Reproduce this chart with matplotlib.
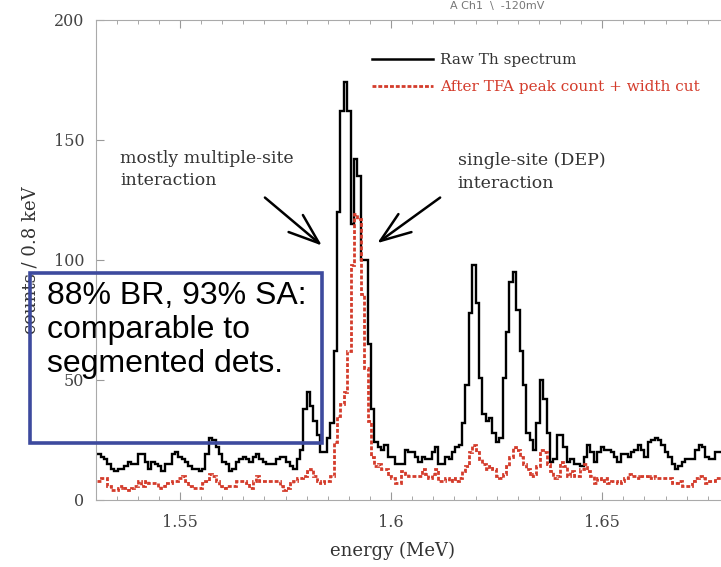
import numpy as np
import matplotlib
matplotlib.use("Agg")
import matplotlib.pyplot as plt
from matplotlib.lines import Line2D
from matplotlib.patches import Rectangle

# histogram, 0.8 keV bins starting at 1.5304 MeV
bin_start = 1.5304
bin_width = 0.0008

raw_counts = [
    19, 18, 17, 15, 13, 12, 13, 13, 14, 16,
    15, 15, 19, 19, 16, 13, 16, 15, 14, 12,
    15, 15, 19, 20, 18, 17, 16, 14, 13, 13,
    12, 13, 19, 26, 25, 22, 19, 16, 15, 12,
    13, 16, 17, 18, 17, 16, 18, 19, 17, 16,
    15, 15, 15, 17, 18, 18, 16, 14, 13, 17,
    21, 38, 45, 39, 33, 27, 20, 20, 26, 32,
    62, 120, 162, 174, 162, 115, 142, 135, 100, 100,
    65, 38, 24, 22, 21, 23, 18, 18, 15, 15,
    15, 21, 20, 20, 18, 16, 18, 17, 17, 20,
    22, 15, 15, 18, 17, 20, 22, 23, 32, 48,
    78, 98, 82, 51, 36, 33, 34, 28, 24, 26,
    51, 70, 91, 95, 79, 62, 48, 28, 25, 21,
    32, 50, 42, 28, 16, 17, 27, 27, 22, 16,
    17, 15, 15, 14, 18, 23, 20, 16, 20, 22,
    21, 21, 20, 18, 16, 19, 19, 18, 20, 21,
    23, 21, 18, 24, 25, 26, 25, 23, 20, 18,
    15, 13, 14, 16, 17, 17, 17, 21, 23, 22,
    18, 17, 17, 20, 20,
]

cut_counts = [
    8, 9, 9, 6, 4, 4, 5, 6, 5, 4,
    5, 6, 8, 6, 8, 7, 7, 7, 5, 6,
    7, 7, 8, 8, 9, 10, 8, 6, 5, 5,
    5, 7, 8, 11, 10, 8, 6, 5, 6, 6,
    6, 8, 8, 8, 7, 5, 8, 10, 8, 8,
    8, 8, 8, 8, 6, 4, 5, 7, 8, 9,
    9, 10, 12, 13, 10, 8, 7, 8, 8, 10,
    24, 35, 40, 45, 62, 98, 119, 117, 86, 55,
    33, 18, 14, 15, 13, 13, 10, 9, 7, 7,
    12, 11, 10, 10, 10, 10, 13, 11, 9, 11,
    13, 8, 8, 9, 8, 9, 8, 9, 12, 14,
    20, 23, 20, 17, 15, 13, 14, 13, 10, 9,
    11, 14, 18, 22, 21, 18, 15, 13, 10, 11,
    14, 21, 20, 15, 12, 9, 10, 16, 14, 10,
    12, 10, 10, 13, 15, 12, 10, 7, 9, 8,
    9, 7, 8, 8, 7, 8, 9, 11, 10, 10,
    9, 10, 10, 9, 10, 9, 9, 9, 9, 9,
    7, 7, 8, 6, 6, 6, 8, 9, 10, 9,
    7, 8, 8, 9, 9,
]

xticks = [1.55, 1.6, 1.65]
xticklabels = ["1.55", "1.6", "1.65"]
yticks = [0, 50, 100, 150, 200]

edges = bin_start + bin_width * np.arange(len(raw_counts) + 1)

serif = ["DejaVu Serif"]
txt_gray = "#333333"
red = "#d43c2c"

fig = plt.figure(figsize=(7.21, 5.67), dpi=100)
ax = fig.add_axes([0.1326, 0.1182, 0.8784, 0.8466])

ax.stairs(raw_counts, edges, color="black", lw=1.7, baseline=None)
ax.stairs(cut_counts, edges, color=red, lw=2.0, linestyle=(0, (1.4, 0.7)), baseline=None)

ax.set_xlim(1.53, 1.68)
ax.set_ylim(0, 200)
ax.set_xticks(xticks)
ax.set_xticklabels(xticklabels)
ax.set_xticks(np.arange(1.53, 1.6801, 0.005), minor=True)
ax.set_yticks(yticks)

for sp in ax.spines.values():
    sp.set_color("#aaaaaa")
    sp.set_linewidth(0.8)
ax.tick_params(which="both", direction="in", top=True, right=True, colors="#999999",
               labelcolor="#444444")
ax.tick_params(which="major", length=6)
ax.tick_params(which="minor", length=3)
for lab in ax.get_xticklabels() + ax.get_yticklabels():
    lab.set_family(serif)
    lab.set_fontsize(11.5)
ax.tick_params(axis="x", pad=10)
ax.tick_params(axis="y", pad=8)

ax.set_xlabel("energy (MeV)", family=serif, fontsize=13, color=txt_gray)
ax.xaxis.set_label_coords(0.468, -0.088)
ax.set_ylabel("counts / 0.8 keV", family=serif, fontsize=13, color=txt_gray)
ax.yaxis.set_label_coords(-0.088, 0.5)

handles = [Line2D([], [], color="black", lw=1.8),
           Line2D([], [], color=red, lw=2.0, linestyle=(0, (1.4, 0.7)))]
leg = fig.legend(handles, ["Raw Th spectrum", "After TFA peak count + width cut"],
                 loc="upper left", bbox_to_anchor=(0.505, 0.92), frameon=False,
                 handlelength=4.0, handletextpad=0.5, labelspacing=0.85, borderpad=0,
                 prop={"family": serif, "size": 11})
leg.get_texts()[0].set_color(txt_gray)
leg.get_texts()[1].set_color(red)

ax.text(1.5358, 146, "mostly multiple-site\ninteraction", family=serif, fontsize=12.5,
        color=txt_gray, va="top", ha="left", linespacing=1.45)
ax.text(1.6158, 145, "single-site (DEP)\ninteraction", family=serif, fontsize=12.5,
        color=txt_gray, va="top", ha="left", linespacing=1.45)
arrow = dict(arrowstyle="->,head_length=1.1,head_width=0.4", lw=1.8, color="black",
             mutation_scale=20, shrinkA=0, shrinkB=0)
ax.annotate("", xy=(1.5836, 106), xytext=(1.5701, 126), arrowprops=arrow)
ax.annotate("", xy=(1.5967, 107), xytext=(1.6116, 126), arrowprops=arrow)

# blue overlay box with slide text
fig.patches.append(Rectangle((30 / 721, 1 - 443 / 567), 292 / 721, 170 / 567,
                             transform=fig.transFigure, fill=False,
                             edgecolor="#3d4a9e", lw=2.6))
fig.text(47 / 721, 1 - 281 / 567, "88% BR, 93% SA:\ncomparable to\nsegmented dets.",
         family=["Liberation Sans"], fontsize=23, color="black", va="top", ha="left",
         linespacing=1.18)

fig.text(0.624, 0.998, "A Ch1  \\  -120mV", fontsize=8, color="#777777",
         ha="left", va="top")

fig.savefig("out.png", dpi=100)
